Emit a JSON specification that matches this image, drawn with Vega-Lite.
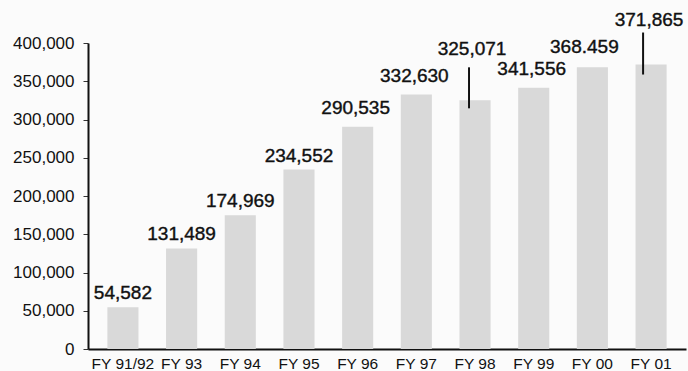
{
  "$schema": "https://vega.github.io/schema/vega-lite/v6.json",
  "width": 598,
  "height": 306,
  "autosize": "none",
  "padding": {"left": 88, "top": 43, "right": 2, "bottom": 22},
  "background": "#fbfbfb",
  "config": {
    "view": {"stroke": null},
    "font": "Liberation Sans"
  },
  "data": {
    "values": [
      {"year": "FY 91/92", "value": 54582, "label": "54,582", "group": "low"},
      {"year": "FY 93", "value": 131489, "label": "131,489", "group": "low"},
      {"year": "FY 94", "value": 174969, "label": "174,969", "group": "low"},
      {"year": "FY 95", "value": 234552, "label": "234,552", "group": "low"},
      {"year": "FY 96", "value": 290535, "label": "290,535", "group": "high"},
      {"year": "FY 97", "value": 332630, "label": "332,630", "group": "high"},
      {"year": "FY 98", "value": 325071, "label": "325,071", "group": "leader1"},
      {"year": "FY 99", "value": 341556, "label": "341,556", "group": "high"},
      {"year": "FY 00", "value": 368459, "label": "368.459", "group": "raised"},
      {"year": "FY 01", "value": 371865, "label": "371,865", "group": "leader2"}
    ]
  },
  "encoding": {
    "x": {
      "field": "year",
      "type": "nominal",
      "sort": null,
      "scale": {"paddingInner": 0.47, "paddingOuter": 0.33},
      "axis": {
        "title": null,
        "labelAngle": 0,
        "labelFont": "Liberation Sans",
        "labelFontSize": 15.5,
        "labelColor": "#111",
        "labelPadding": 7,
        "ticks": false,
        "domainColor": "#111",
        "domainWidth": 2
      }
    },
    "y": {
      "field": "value",
      "type": "quantitative",
      "scale": {"domain": [0, 400000], "nice": false},
      "axis": {
        "title": null,
        "values": [0, 50000, 100000, 150000, 200000, 250000, 300000, 350000, 400000],
        "format": ",d",
        "grid": false,
        "labelFont": "Liberation Sans",
        "labelFontSize": 17,
        "labelColor": "#111",
        "labelPadding": 9,
        "tickSize": 5,
        "tickColor": "#333",
        "domainColor": "#111",
        "domainWidth": 2
      }
    }
  },
  "layer": [
    {"mark": {"type": "bar", "color": "#d9d9d9"}},
    {
      "transform": [{"filter": "datum.group === 'low'"}],
      "mark": {"type": "text", "baseline": "bottom", "dy": -4, "fontSize": 19, "color": "#111", "stroke": "#111", "strokeWidth": 0.4},
      "encoding": {"text": {"field": "label"}}
    },
    {
      "transform": [{"filter": "datum.group === 'high'"}],
      "mark": {"type": "text", "baseline": "bottom", "dy": -9, "dx": -2, "fontSize": 19, "color": "#111", "stroke": "#111", "strokeWidth": 0.4},
      "encoding": {"text": {"field": "label"}}
    },
    {
      "transform": [{"filter": "datum.group === 'raised'"}],
      "mark": {"type": "text", "baseline": "bottom", "dy": -10, "dx": -8, "fontSize": 19, "color": "#111", "stroke": "#111", "strokeWidth": 0.4},
      "encoding": {"text": {"field": "label"}}
    },
    {
      "transform": [{"filter": "datum.group === 'leader1'"}],
      "mark": {"type": "text", "baseline": "bottom", "dy": -41, "dx": -3, "fontSize": 19, "color": "#111", "stroke": "#111", "strokeWidth": 0.4},
      "encoding": {"text": {"field": "label"}}
    },
    {
      "transform": [{"filter": "datum.group === 'leader2'"}],
      "mark": {"type": "text", "baseline": "bottom", "dy": -35, "dx": -2, "fontSize": 19, "color": "#111", "stroke": "#111", "strokeWidth": 0.4},
      "encoding": {"text": {"field": "label"}}
    },
    {
      "transform": [{"filter": "datum.group === 'leader1'"}],
      "mark": {"type": "rule", "color": "#111", "strokeWidth": 2, "xOffset": -6, "yOffset": -33, "y2Offset": 8},
      "encoding": {"y2": {"field": "value"}}
    },
    {
      "transform": [{"filter": "datum.group === 'leader2'"}],
      "mark": {"type": "rule", "color": "#111", "strokeWidth": 2, "xOffset": -8, "yOffset": -32, "y2Offset": 10},
      "encoding": {"y2": {"field": "value"}}
    }
  ]
}
